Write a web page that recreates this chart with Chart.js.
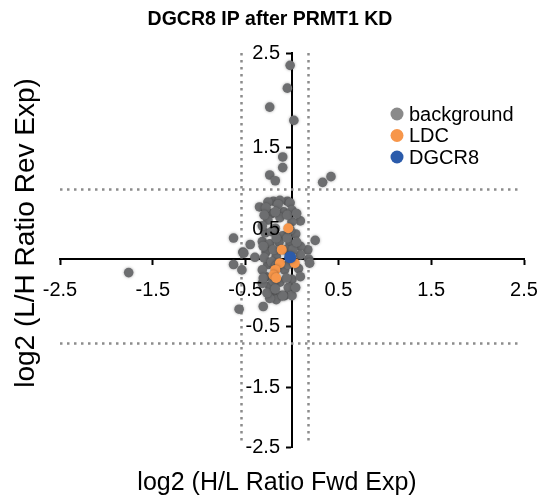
<!DOCTYPE html>
<html lang="en">
<head>
<meta charset="UTF-8">
<title>DGCR8 IP after PRMT1 KD</title>
<script src="https://cdn.jsdelivr.net/npm/chart.js"></script>
<style>
    html, body { margin: 0; padding: 0; background: #fff; }
    #wrap { position: relative; width: 553px; height: 499px; }
</style>
</head>
<body>
<div id="wrap"><canvas id="myChart" width="553" height="499"></canvas></div>
<script>
const titleText = 'DGCR8 IP after PRMT1 KD';
const xTitle = 'log2 (H/L Ratio Fwd Exp)';
const yTitle = 'log2 (L/H Ratio Rev Exp)';

const xTicks = [-2.5, -1.5, -0.5, 0.5, 1.5, 2.5];
const yTicks = [-2.5, -1.5, -0.5, 0.5, 1.5, 2.5];

// cutoff lines (dotted)
const xCutoffs = [-0.55, 0.17];
const yCutoffs = [-0.76, 1.0];

const seriesNames = ['background', 'LDC', 'DGCR8'];

const backgroundX = [
    -0.02, -0.05, -0.24, 0.02, -0.10, -0.10, -0.24, -0.18, 0.33, 0.42,
    -0.20, -0.05, -0.35, -0.22, -0.09, 0.09, -0.63, -0.45, -0.32, 0.25,
    0.17, -0.53, -0.40, 0.18, 0.19, -0.63, -0.54, -0.52, -1.76, -0.20,
    -0.11, -0.17, -0.24, -0.31, -0.57, -0.08,
    -0.26, -0.13, -0.02, -0.28, -0.15, 0.00, -0.26, -0.13, 0.00, -0.18,
    -0.29, -0.10, 0.04, -0.24, -0.14, -0.02, 0.09, -0.28, -0.17, -0.07,
    0.09, -0.26, -0.08, 0.07, -0.28, -0.13, 0.00, -0.24, -0.04, 0.09,
    -0.32, -0.32, 0.00,
    -0.30, -0.18, -0.05, 0.05, -0.32, -0.22, -0.02, -0.17, -0.05, -0.31,
    -0.20, 0.01, -0.30, -0.22, -0.17, -0.31, -0.20, -0.06, 0.04, -0.10,
    -0.27, -0.18, -0.04, 0.05
];
const backgroundY = [
    2.37, 2.13, 1.93, 1.79, 1.39, 1.26, 1.17, 1.10, 1.08, 1.15,
    0.85, 0.85, 0.78, 0.70, 0.72, 0.61, 0.36, 0.25, 0.30, 0.32,
    0.16, 0.12, 0.03, 0.00, -0.03, -0.04, -0.08, 0.10, -0.10, -0.24,
    -0.27, -0.30, -0.29, -0.35, -0.37, -0.27,
    0.84, 0.86, 0.83, 0.77, 0.81, 0.74, 0.62, 0.65, 0.60, 0.52,
    0.45, 0.40, 0.43, 0.26, 0.29, 0.26, 0.22, 0.12, 0.05, 0.16,
    0.07, -0.04, -0.08, -0.07, -0.13, -0.17, -0.15, -0.20, -0.21, -0.13,
    -0.08, -0.18, -0.27,
    0.68, 0.72, 0.68, 0.70, 0.55, 0.47, 0.50, 0.36, 0.36, 0.22,
    0.16, 0.16, 0.02, -0.02, -0.05, -0.14, -0.16, -0.14, -0.21, -0.27,
    -0.25, -0.22, -0.04, 0.29
];

const ldcX = [-0.04, -0.11, 0.03, -0.13, -0.18, -0.20, -0.17];
const ldcY = [0.52, 0.16, -0.03, -0.03, -0.08, -0.12, -0.14];

const dgcr8X = [-0.02];
const dgcr8Y = [0.03];

const colors = ['#6d6e70', '#f7964a', '#2b5bab'];
const legendColors = ['#8a8a8a', '#f7964a', '#2b5bab'];
const radii = [4.8, 5, 6];

// the y labels of the original are not evenly spaced, so the y axis
// maps each stop to its own fraction of the axis height
const yAxisStops = [-2.5, -1.5, -0.5, 0, 0.5, 1.5, 2.5];
const yAxisFrac = [0, 0.150, 0.305, 0.477, 0.551, 0.759, 1];
const yLabelGap = 12;

function lerp(v, xs, ys) {
    let i = 1;
    while (i < xs.length - 1 && v > xs[i]) i++;
    return ys[i - 1] + (v - xs[i - 1]) * (ys[i] - ys[i - 1]) / (xs[i] - xs[i - 1]);
}

class StretchedScale extends Chart.LinearScale {
    getPixelForValue(value) {
        return this.bottom - lerp(value, yAxisStops, yAxisFrac) * (this.bottom - this.top);
    }
    getValueForPixel(pixel) {
        return lerp((this.bottom - pixel) / (this.bottom - this.top), yAxisFrac, yAxisStops);
    }
    // labels of an axis placed at x=0 ignore ticks.padding, push them left
    _computeLabelItems(chartArea) {
        const items = super._computeLabelItems(chartArea);
        items.forEach(it => { it.options.translation[0] -= yLabelGap; });
        return items;
    }
}
StretchedScale.id = 'stretched';
StretchedScale.defaults = {};
Chart.register(StretchedScale);

Chart.defaults.font.family = "'Liberation Sans', Arial, Helvetica, sans-serif";
Chart.defaults.color = '#000';

const toPoints = (xs, ys) => xs.map((x, i) => ({ x: x, y: ys[i] }));

const extras = {
    id: 'extras',
    beforeDatasetsDraw(chart) {
        const { ctx, chartArea, scales } = chart;
        ctx.save();
        ctx.strokeStyle = '#8c8c8c';
        ctx.lineWidth = 2.5;
        ctx.setLineDash([2.5, 4.5]);
        xCutoffs.forEach(v => {
            const px = Math.round(scales.x.getPixelForValue(v)) + 0.5;
            ctx.beginPath();
            ctx.moveTo(px, chartArea.top);
            ctx.lineTo(px, chartArea.bottom - 4);
            ctx.stroke();
        });
        yCutoffs.forEach(v => {
            const py = Math.round(scales.y.getPixelForValue(v)) + 0.5;
            ctx.beginPath();
            ctx.moveTo(chartArea.left, py);
            ctx.lineTo(chartArea.right - 4, py);
            ctx.stroke();
        });
        ctx.restore();
        // soft halo round the dots
        ctx.save();
        ctx.shadowColor = 'rgba(0,0,0,0.35)';
        ctx.shadowBlur = 3;
    },
    afterDatasetsDraw(chart) {
        chart.ctx.restore();
    },
    afterDraw(chart) {
        const ctx = chart.ctx;
        ctx.save();
        ctx.fillStyle = '#000';
        ctx.textAlign = 'center';
        ctx.textBaseline = 'middle';
        ctx.font = "bold 19.5px 'Liberation Sans', Arial, sans-serif";
        ctx.fillText(titleText, 270, 20);
        // legend
        ctx.font = "20px 'Liberation Sans', Arial, sans-serif";
        ctx.textAlign = 'left';
        seriesNames.forEach((name, i) => {
            const y = 114 + i * 21.5;
            ctx.fillStyle = legendColors[i];
            ctx.beginPath();
            ctx.arc(397, y, 6.5, 0, Math.PI * 2);
            ctx.fill();
            ctx.fillStyle = '#000';
            ctx.fillText(name, 409, y + 1);
        });
        // axis titles
        ctx.textAlign = 'center';
        ctx.textBaseline = 'alphabetic';
        ctx.font = "25px 'Liberation Sans', Arial, sans-serif";
        ctx.fillText(xTitle, 277, 490);
        ctx.translate(34, 233);
        ctx.rotate(-Math.PI / 2);
        ctx.font = "28px 'Liberation Sans', Arial, sans-serif";
        ctx.fillText(yTitle, 0, 0);
        ctx.restore();
    }
};

const datasets = [
    { label: seriesNames[0], data: toPoints(backgroundX, backgroundY), order: 3 },
    { label: seriesNames[1], data: toPoints(ldcX, ldcY), order: 2 },
    { label: seriesNames[2], data: toPoints(dgcr8X, dgcr8Y), order: 1 }
].map((d, i) => Object.assign(d, {
    backgroundColor: colors[i],
    borderWidth: 0,
    pointRadius: radii[i]
}));

const tickGrid = {
    drawOnChartArea: false,
    drawTicks: true,
    tickLength: 5,
    tickWidth: 2,
    tickColor: '#000'
};

new Chart(document.getElementById('myChart'), {
    type: 'scatter',
    data: { datasets },
    options: {
        responsive: false,
        animation: false,
        devicePixelRatio: 1,
        layout: { padding: { left: 60, right: 29, top: 53, bottom: 52 } },
        plugins: {
            legend: { display: false },
            tooltip: { enabled: false },
            title: { display: false }
        },
        scales: {
            x: {
                type: 'linear',
                min: -2.5,
                max: 2.5,
                position: { y: 0 },
                afterBuildTicks: s => { s.ticks = xTicks.map(v => ({ value: v })); },
                ticks: { font: { size: 20 }, padding: 14, maxRotation: 0, z: 1, callback: v => String(v) },
                grid: tickGrid,
                border: { display: true, color: '#000', width: 2 }
            },
            y: {
                type: 'stretched',
                min: -2.5,
                max: 2.5,
                position: { x: 0 },
                afterBuildTicks: s => { s.ticks = yTicks.map(v => ({ value: v })); },
                ticks: { font: { size: 20 }, z: 1, callback: v => String(v) },
                grid: tickGrid,
                border: { display: true, color: '#000', width: 2 }
            }
        }
    },
    plugins: [extras]
});
</script>
</body>
</html>
